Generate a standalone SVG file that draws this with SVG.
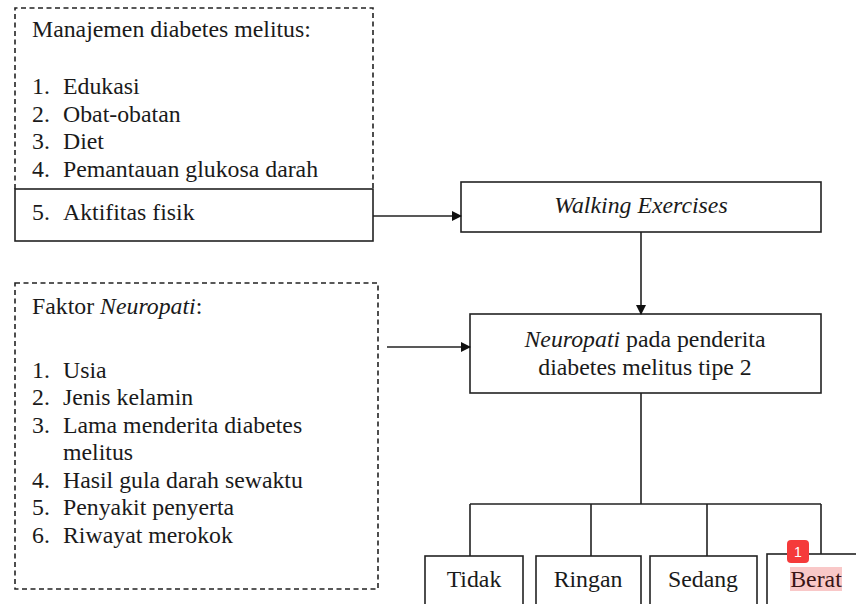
<svg xmlns="http://www.w3.org/2000/svg" width="856" height="604" viewBox="0 0 856 604">
<style>
text{font-family:"Liberation Serif","Times New Roman",serif;font-size:23.8px;fill:#1a1a1a}
.it{font-style:italic}
.box{fill:#fff;stroke:#222;stroke-width:1.6}
.dash{fill:none;stroke:#222;stroke-width:1.6;stroke-dasharray:5 3.5}
.ln{fill:none;stroke:#222;stroke-width:1.6}
.c{text-anchor:middle}
</style>
<defs>
<marker id="ah" markerWidth="10" markerHeight="10" refX="9" refY="5" orient="auto" markerUnits="userSpaceOnUse">
<path d="M0,0 L10,5 L0,10 Z" fill="#111"/>
</marker>
</defs>
<rect width="856" height="604" fill="#fff"/>
<g id="manajemen">
<path class="dash" d="M15,189 V8 H373 V189"/>
<rect class="box" x="15" y="189" width="358" height="52"/>
<text x="32" y="37">Manajemen diabetes melitus:</text>
<text x="32" y="94">1.</text><text x="63" y="94">Edukasi</text>
<text x="32" y="121.5">2.</text><text x="63" y="121.5">Obat-obatan</text>
<text x="32" y="149">3.</text><text x="63" y="149">Diet</text>
<text x="32" y="176.5">4.</text><text x="63" y="176.5">Pemantauan glukosa darah</text>
<text x="32" y="220">5.</text><text x="63" y="220">Aktifitas fisik</text>
</g>
<g id="walking">
<rect class="box" x="461" y="182" width="360" height="50"/>
<text class="it c" x="641" y="213">Walking Exercises</text>
</g>
<g id="faktor">
<rect class="dash" x="15" y="283" width="363" height="306"/>
<text x="32" y="314">Faktor <tspan class="it">Neuropati</tspan>:</text>
<text x="32" y="377.5">1.</text><text x="63" y="377.5">Usia</text>
<text x="32" y="405">2.</text><text x="63" y="405">Jenis kelamin</text>
<text x="32" y="432.5">3.</text><text x="63" y="432.5">Lama menderita diabetes</text>
<text x="63" y="460">melitus</text>
<text x="32" y="487.5">4.</text><text x="63" y="487.5">Hasil gula darah sewaktu</text>
<text x="32" y="515">5.</text><text x="63" y="515">Penyakit penyerta</text>
<text x="32" y="542.5">6.</text><text x="63" y="542.5">Riwayat merokok</text>
</g>
<g id="neuropati">
<rect class="box" x="470" y="314" width="351" height="79"/>
<text class="c" x="645" y="347"><tspan class="it">Neuropati</tspan> pada penderita</text>
<text class="c" x="645" y="375">diabetes melitus tipe 2</text>
</g>
<g id="tidak">
<rect class="box" x="425" y="556" width="98" height="60"/>
<text class="c" x="474" y="587">Tidak</text>
</g>
<g id="ringan">
<rect class="box" x="536" y="556" width="105" height="60"/>
<text class="c" x="588" y="587">Ringan</text>
</g>
<g id="sedang">
<rect class="box" x="650" y="556" width="107" height="60"/>
<text class="c" x="703" y="587">Sedang</text>
</g>
<g id="berat">
<rect class="box" x="767" y="554" width="100" height="60"/>
<rect x="790" y="567" width="52" height="24" fill="#f7b5b5" opacity="0.75"/>
<text class="c" x="816" y="587" style="fill:#3a1414">Berat</text>
<rect x="787" y="540" width="22" height="23" rx="4" fill="#f53a3a"/>
<text class="c" x="798" y="557" style="font-family:'Liberation Sans',Arial,sans-serif;font-size:14px;fill:#fff">1</text>
</g>
<g id="connectors">
<line class="ln" x1="373" y1="216" x2="461" y2="216" marker-end="url(#ah)"/>
<line class="ln" x1="641" y1="232" x2="641" y2="314" marker-end="url(#ah)"/>
<line class="ln" x1="387" y1="347" x2="470" y2="347" marker-end="url(#ah)"/>
<path class="ln" d="M641,393 V504 M470,504 H821 M470,504 V556 M591,504 V556 M707,504 V556 M821,504 V554"/>
</g>
</svg>
